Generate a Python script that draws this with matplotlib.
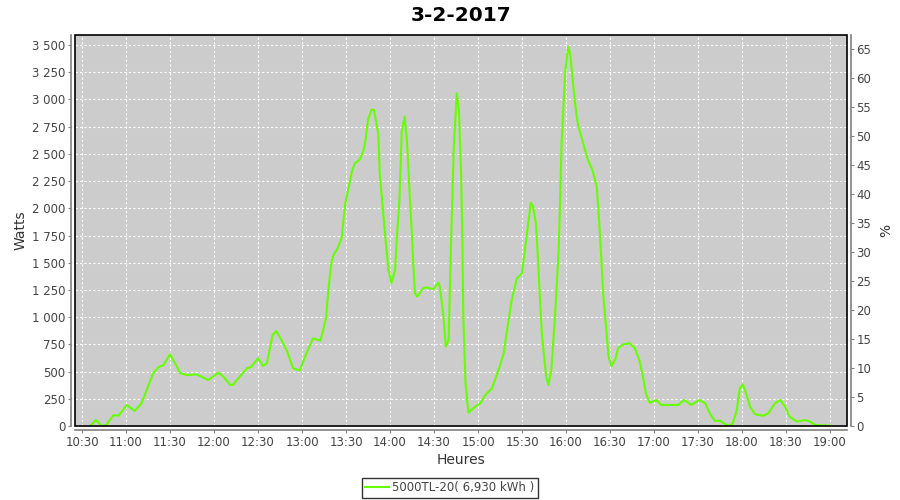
import pandas as pd
import numpy as np
import matplotlib
matplotlib.use('Agg')
import matplotlib.pyplot as plt
import matplotlib.dates as mdates
from matplotlib.ticker import FuncFormatter, MultipleLocator
from matplotlib.patches import Rectangle

# data
times = ['10:35:30', '10:39:30', '10:43:30', '10:46:30', '10:51:30', '10:55:00', '11:00:30', '11:06:00',
         '11:10:30', '11:15:00', '11:18:30', '11:22:00', '11:25:30', '11:30:00', '11:33:30', '11:37:00',
         '11:41:30', '11:48:00', '11:51:30', '11:56:00', '12:03:00', '12:06:30', '12:11:00', '12:13:00',
         '12:17:30', '12:22:30', '12:25:30', '12:30:00', '12:33:30', '12:36:00', '12:40:00', '12:42:30',
         '12:46:00', '12:49:30', '12:54:00', '12:58:30', '13:03:00', '13:07:30', '13:12:30', '13:14:30',
         '13:16:30', '13:18:00', '13:20:00', '13:21:30', '13:24:00', '13:27:00', '13:29:30', '13:31:30',
         '13:34:00', '13:36:00', '13:39:30', '13:42:00', '13:43:00', '13:45:00', '13:47:30', '13:49:00',
         '13:52:00', '13:53:00', '13:55:30', '13:57:30', '13:59:00', '14:01:00', '14:03:30', '14:04:30',
         '14:06:30', '14:08:00', '14:10:00', '14:11:30', '14:12:30', '14:13:30', '14:15:00', '14:16:00',
         '14:17:00', '14:18:30', '14:22:30', '14:25:00', '14:29:30', '14:33:00', '14:34:00', '14:36:30',
         '14:38:00', '14:40:00', '14:41:30', '14:43:30', '14:45:30', '14:47:00', '14:48:30', '14:49:20',
         '14:50:00', '14:51:30', '14:53:30', '14:55:30', '14:58:00', '15:01:30', '15:05:00', '15:09:30',
         '15:14:00', '15:17:30', '15:20:30', '15:23:00', '15:26:30', '15:30:00', '15:32:00', '15:34:30',
         '15:36:00', '15:37:30', '15:39:30', '15:40:30', '15:43:30', '15:46:30', '15:48:00', '15:50:00',
         '15:52:30', '15:55:00', '15:55:30', '15:57:00', '15:59:30', '16:01:30', '16:03:00', '16:05:00',
         '16:07:00', '16:08:30', '16:10:30', '16:13:00', '16:15:00', '16:18:00', '16:21:00', '16:23:00',
         '16:25:30', '16:27:30', '16:29:00', '16:31:00', '16:33:30', '16:35:30', '16:39:00', '16:43:30',
         '16:47:00', '16:50:00', '16:52:30', '16:54:30', '16:57:00', '17:01:30', '17:05:00', '17:11:00',
         '17:16:30', '17:20:30', '17:25:30', '17:31:00', '17:35:00', '17:38:00', '17:41:30', '17:45:00',
         '17:47:30', '17:50:30', '17:53:30', '17:56:30', '17:58:30', '18:00:30', '18:02:30', '18:05:30',
         '18:09:00', '18:14:30', '18:18:00', '18:22:30', '18:26:00', '18:29:30', '18:32:30', '18:37:30',
         '18:43:00', '18:46:30', '18:50:00', '19:01:00']
watts = [0, 55, 0, 10, 100, 95, 193, 138,
         208, 361, 484, 539, 560, 658, 576, 484,
         468, 474, 453, 422, 490, 453, 377, 377,
         453, 530, 545, 622, 551, 576, 836, 873,
         790, 698, 530, 510, 667, 805, 784, 882,
         1004, 1249, 1494, 1571, 1625, 1723, 2045, 2168,
         2336, 2413, 2450, 2535, 2597, 2811, 2909, 2903,
         2689, 2321, 1938, 1632, 1433, 1311, 1433, 1693,
         2092, 2704, 2842, 2627, 2382, 2107, 1739, 1463,
         1219, 1188, 1265, 1274, 1256, 1317, 1280, 1004,
         729, 790, 1617, 2566, 3056, 2903, 2306, 1723,
         1004, 392, 122, 147, 177, 208, 285, 346,
         514, 667, 943, 1157, 1357, 1403, 1617, 1877,
         2051, 2021, 1861, 1632, 851, 453, 377, 514,
         1004, 1617, 1831, 2597, 3255, 3485, 3408, 3117,
         2872, 2750, 2658, 2535, 2443, 2352, 2198, 1800,
         1188, 882, 637, 551, 606, 714, 750, 760,
         714, 606, 453, 300, 214, 239, 193, 193,
         193, 239, 193, 239, 208, 117, 46, 49,
         25, 3, 18, 147, 346, 383, 315, 177,
         107, 95, 117, 208, 239, 177, 85, 40,
         55, 40, 9, 3]
day = '2017-02-03'
serie = '5000TL-20( 6,930 kWh )'

df = pd.DataFrame({'time': pd.to_datetime([day + ' ' + t for t in times]), 'watts': watts})

fig = plt.figure(figsize=(9, 5), dpi=100)
ax = fig.add_axes([75/900, 1-426/500, (846.7-75)/900, (426-35)/500])
ax2 = ax.twinx()
ax.set_zorder(ax2.get_zorder() + 1)
ax.patch.set_visible(False)
ax2.patch.set_visible(True)
ax2.patch.set_facecolor('#cccccc')

ax.plot(df['time'], df['watts'], color='#66ff00', lw=1.5, label=serie, zorder=3)

ax.set_xlim(pd.Timestamp(day + ' 10:25:14'), pd.Timestamp(day + ' 19:11:24'))
ax.set_ylim(0, 3592)
ax2.set_ylim(0, 67.5)

ax.xaxis.set_major_locator(mdates.MinuteLocator(byminute=[0, 30]))
ax.xaxis.set_major_formatter(mdates.DateFormatter('%H:%M'))
ax.yaxis.set_major_locator(MultipleLocator(250))
ax.yaxis.set_major_formatter(FuncFormatter(lambda v, p: '{:,.0f}'.format(v).replace(',', ' ')))
ax2.yaxis.set_major_locator(MultipleLocator(5))

# grid (white dashed)
ax.grid(True, color='white', ls=(0, (2, 2)), lw=0.8)

grey = '#808080'
for a in (ax, ax2):
    for s in a.spines.values():
        s.set_visible(False)
ax.spines['left'].set_visible(True)
ax.spines['bottom'].set_visible(True)
ax2.spines['right'].set_visible(True)
ax.spines['left'].set_position(('outward', 3))
ax.spines['bottom'].set_position(('outward', 3))
ax2.spines['right'].set_position(('outward', 3))
for s in (ax.spines['left'], ax.spines['bottom'], ax2.spines['right']):
    s.set_color(grey)
    s.set_linewidth(1.2)

ax.tick_params(axis='both', direction='out', length=2, color=grey, labelsize=8.5, labelcolor='#444444', pad=2)
ax2.tick_params(axis='y', direction='out', length=2, color=grey, labelsize=8.5, labelcolor='#444444', pad=2)

ax.add_patch(Rectangle((0, 0), 1, 1, transform=ax.transAxes, fill=False, ec='black', lw=1.2, clip_on=False, zorder=5))

ax.set_xlabel('Heures', fontsize=10, color='#333333', labelpad=3)
ax.set_ylabel('Watts', fontsize=10, color='#333333', labelpad=3)
ax2.set_ylabel('%', fontsize=10, color='#333333', labelpad=6)

fig.suptitle('3-2-2017', fontsize=14.5, fontweight='bold', y=0.988, va='top', x=(75+846.7)/2/900)

leg = fig.legend(loc='center', bbox_to_anchor=(450/900, 1-488/500), fontsize=8.5, frameon=True, fancybox=False,
                 handlelength=2.0, borderpad=0.3, handletextpad=0.3, borderaxespad=0)
leg.get_frame().set_edgecolor('black')
leg.get_frame().set_linewidth(1)
for t in leg.get_texts():
    t.set_color('#444444')

fig.savefig('out.png', dpi=100)
